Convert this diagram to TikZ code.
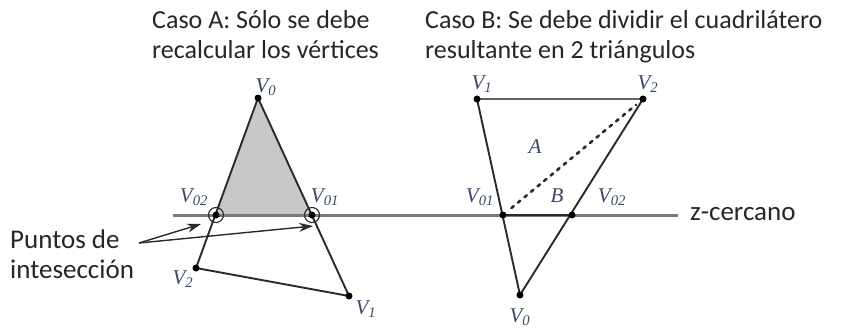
\documentclass[tikz,border=0pt]{standalone}
\usepackage{fontspec}
\setmainfont{Carlito}
\newfontfamily\lblfont{Liberation Serif}
\usetikzlibrary{arrows.meta,calc}
\definecolor{lblc}{HTML}{3B4868}
\definecolor{txtc}{HTML}{262626}
\definecolor{edgec}{HTML}{2A2A2A}
\definecolor{zline}{HTML}{7A7A7A}
\definecolor{shadegray}{HTML}{C8C8CA}
\begin{document}
\begin{tikzpicture}[x=1pt,y=-1pt,
  edge/.style={draw=edgec,line width=1.9pt},
  dotpt/.style={circle,fill=black,inner sep=0pt,minimum size=7pt},
  ring/.style={circle,draw=edgec,line width=1.1pt,inner sep=0pt,minimum size=15pt},
  vlbl/.style={text=lblc,font=\lblfont\itshape\fontsize{21}{21}\selectfont,inner sep=0pt},
  title/.style={text=txtc,font=\fontsize{26}{30}\selectfont,align=left,anchor=north west,inner sep=0pt},
  arr/.style={draw=edgec,line width=1.4pt,-{Stealth[length=14pt,width=9pt]}}]
\useasboundingbox (0,0) rectangle (844,332);
% titles
\node[title] (tA) at (152,10) {Caso A: Sólo se debe\\recalcular los vértices};
\node[title] (tB) at (425,10) {Caso B: Se debe dividir el cuadrilátero\\resultante en 2 triángulos};
% Case A coordinates
\coordinate (a0) at (258,98);
\coordinate (a02) at (216,215);
\coordinate (a01) at (312,215);
\coordinate (a2) at (196,268);
\coordinate (a1) at (349,296);
% Case B coordinates
\coordinate (b1) at (477,99);
\coordinate (b2) at (643,99);
\coordinate (b01) at (503,215);
\coordinate (b02) at (572,215);
\coordinate (b0) at (520,295);
% z line
\coordinate (zl) at (173,215);
\coordinate (zr) at (678,215);
% shading
\fill[shadegray] (a0) -- (a02) -- (a01) -- cycle;
\draw[draw=zline,line width=3pt] (zl) -- (zr);
\draw[draw=edgec,line width=2.2pt] (b01) -- (b02);
% Case A edges
\draw[edge] (a0) -- (a2) -- (a1) -- cycle;
\node[ring] (r02) at (a02) {};
\node[ring] (r01) at (a01) {};
\foreach \p in {a0,a02,a01,a2,a1} \node[dotpt] at (\p) {};
% Case B edges
\draw[edge] (b0) -- (b1);
\draw[draw=zline!80!black,line width=2.6pt] (b1) -- (b2);
\draw[edge] (b2) -- (b0);
\draw[draw=edgec,line width=2.6pt,dash pattern=on 3pt off 5.5pt,line cap=round] ($(b01)!0.06!(b2)$) -- ($(b01)!0.95!(b2)$);
\foreach \p in {b1,b2,b01,b02,b0} \node[dotpt] at (\p) {};
% labels A
\node[vlbl] (lA0) at (266,87) {V\textsubscript{0}};
\node[vlbl] (lA02) at (194,197) {V\textsubscript{02}};
\node[vlbl] (lA01) at (325,197) {V\textsubscript{01}};
\node[vlbl] (lA2) at (183,279) {V\textsubscript{2}};
\node[vlbl] (lA1) at (366,309) {V\textsubscript{1}};
% labels B
\node[vlbl] (lB1) at (482,84) {V\textsubscript{1}};
\node[vlbl] (lB2) at (648,84) {V\textsubscript{2}};
\node[vlbl] (lBA) at (535,147) {A};
\node[vlbl] (lB01) at (480,197) {V\textsubscript{01}};
\node[vlbl] (lBB) at (557,196) {B};
\node[vlbl] (lB02) at (612,197) {V\textsubscript{02}};
\node[vlbl] (lB0) at (520,317) {V\textsubscript{0}};
% z-cercano
\node[text=txtc,font=\fontsize{27}{30}\selectfont,anchor=west,inner sep=0pt] (zc) at (690,214) {z-cercano};
% Puntos de interseccion
\node[text=txtc,font=\fontsize{27}{30}\selectfont,align=left,anchor=west,inner sep=0pt] (pts) at (10,254) {Puntos de\\intesección};
\coordinate (as) at (139,243);
\coordinate (t1) at (201,224);
\coordinate (t2) at (313,226);
\draw[arr] (as) -- (t1);
\draw[arr] (as) -- (t2);
\end{tikzpicture}
\end{document}
